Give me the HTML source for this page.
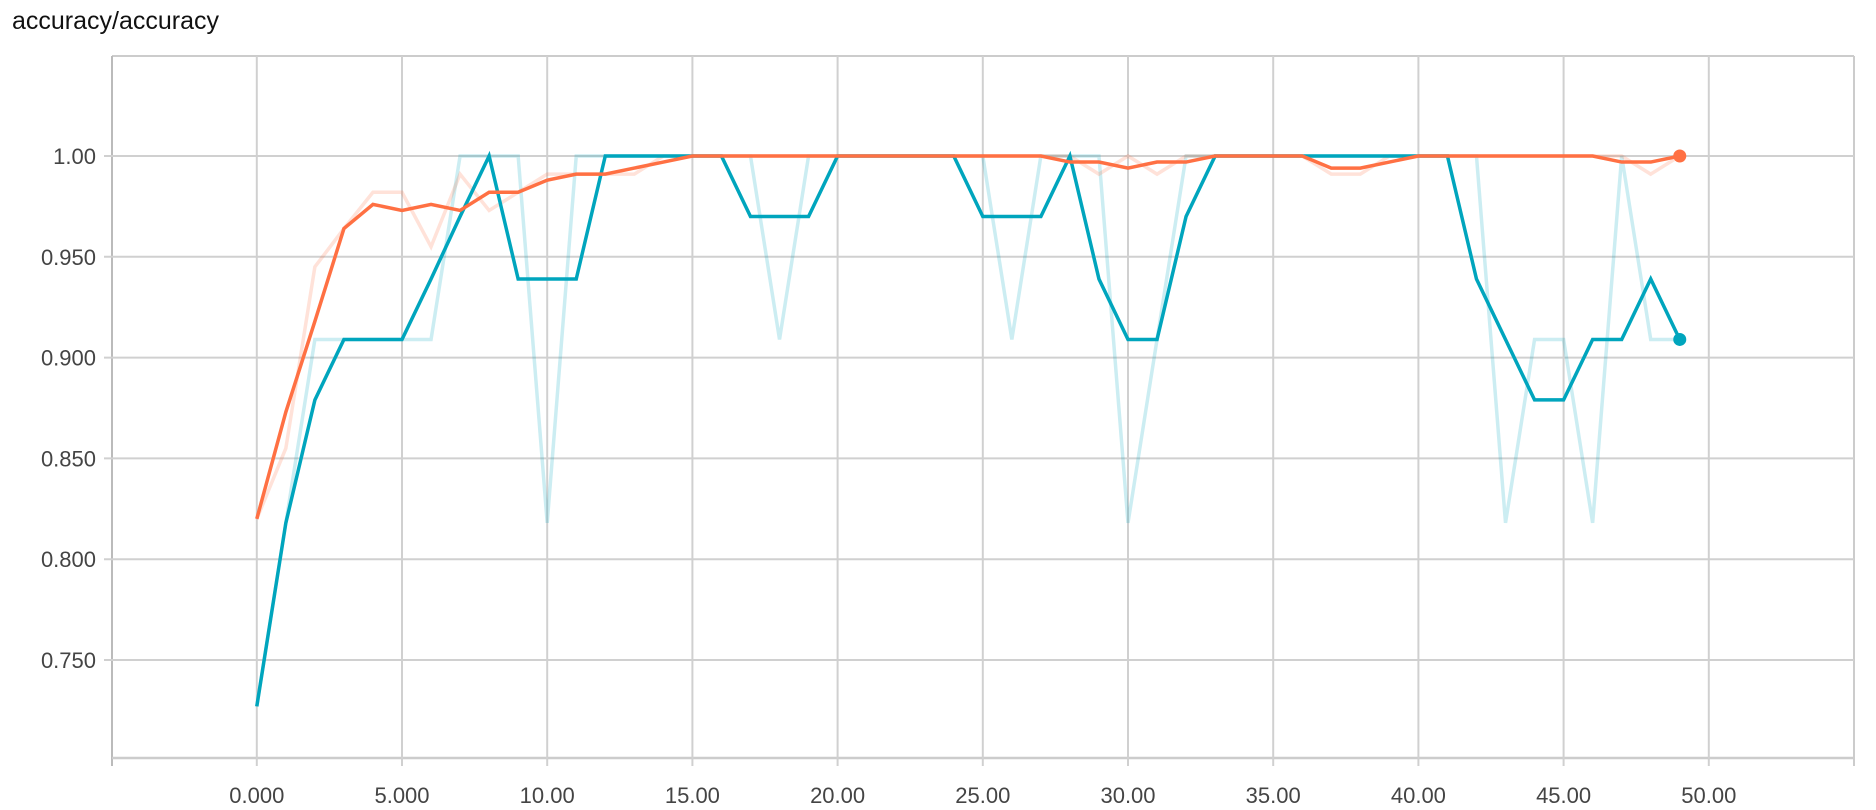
<!DOCTYPE html>
<html><head><meta charset="utf-8"><style>
html,body{margin:0;padding:0;background:#fff;width:1876px;height:810px;overflow:hidden}
svg{display:block}
text{font-family:"Liberation Sans",sans-serif}
</style></head><body>
<svg id="chart" width="1876" height="810" xmlns="http://www.w3.org/2000/svg">
<text x="12" y="29" font-size="25" fill="#111">accuracy/accuracy</text>
<g id="grid"></g><g id="series"></g><g id="labels"></g>
</svg>
<script>
const steps = Array.from({length:50},(_,i)=>i);
const tealRaw = [0.727,0.818,0.909,0.909,0.909,0.909,0.909,1,1,1,0.818,1,1,1,1,1,1,1,0.909,1,1,1,1,1,1,1,0.909,1,1,1,0.818,0.909,1,1,1,1,1,1,1,1,1,1,1,0.818,0.909,0.909,0.818,1,0.909,0.909];
const tealSmooth = [0.727,0.818,0.879,0.909,0.909,0.909,0.939,0.97,1,0.939,0.939,0.939,1,1,1,1,1,0.97,0.97,0.97,1,1,1,1,1,0.97,0.97,0.97,1,0.939,0.909,0.909,0.97,1,1,1,1,1,1,1,1,1,0.939,0.909,0.879,0.879,0.909,0.909,0.939,0.909];
const orangeRaw = [0.82,0.855,0.945,0.964,0.982,0.982,0.955,0.991,0.973,0.982,0.991,0.991,0.991,0.991,1,1,1,1,1,1,1,1,1,1,1,1,1,1,1,0.991,1,0.991,1,1,1,1,1,0.991,0.991,1,1,1,1,1,1,1,1,1,0.991,1];
const orangeSmooth = [0.82,0.873,0.918,0.964,0.976,0.973,0.976,0.973,0.982,0.982,0.988,0.991,0.991,0.994,0.997,1,1,1,1,1,1,1,1,1,1,1,1,1,0.997,0.997,0.994,0.997,0.997,1,1,1,1,0.994,0.994,0.997,1,1,1,1,1,1,1,0.997,0.997,1];
const xTicks = [0,5,10,15,20,25,30,35,40,45,50];
const xTickLabels = ["0.000","5.000","10.00","15.00","20.00","25.00","30.00","35.00","40.00","45.00","50.00"];
const yTicks = [1.0,0.95,0.9,0.85,0.8,0.75];
const yTickLabels = ["1.00","0.950","0.900","0.850","0.800","0.750"];

const L=112,R=1854,T=56,B=758;
const xs = s => 256.8 + s*29.04;
const ys = v => 156 + (1-v)*2016;
const NS="http://www.w3.org/2000/svg";
function mk(tag,attrs,parent){const e=document.createElementNS(NS,tag);for(const k in attrs)e.setAttribute(k,attrs[k]);parent.appendChild(e);return e;}
const grid=document.getElementById('grid'),ser=document.getElementById('series'),lab=document.getElementById('labels');
let e;
e=mk('line',{x1:L,y1:T,x2:R,y2:T,stroke:'#ccc','stroke-width':2},grid);


e=mk('line',{x1:R,y1:T,x2:R,y2:B+8,stroke:'#ccc','stroke-width':2},grid);


e=mk('line',{x1:L,y1:T,x2:L,y2:B+8,stroke:'#bbb','stroke-width':2},grid);


e=mk('line',{x1:L,y1:B,x2:R,y2:B,stroke:'#ccc','stroke-width':2.5},grid);


xTicks.forEach((t,i)=>{
  e=mk('line',{x1:xs(t),y1:T,x2:xs(t),y2:B+8,stroke:'#d0d0d0','stroke-width':2},grid);
  
  
  e=mk('text',{x:xs(t),y:803,'font-size':22,fill:'#444','text-anchor':'middle'},lab);
  e.textContent=xTickLabels[i];
  
  
});
yTicks.forEach((t,i)=>{
  e=mk('line',{x1:L-8,y1:ys(t),x2:R,y2:ys(t),stroke:'#d0d0d0','stroke-width':2},grid);
  
  
  e=mk('text',{x:96,y:ys(t)+8,'font-size':22,fill:'#444','text-anchor':'end'},lab);
  e.textContent=yTickLabels[i];
  
  
});
function line(vals,color,op,w){return mk('polyline',{points:vals.map((v,i)=>xs(steps[i])+','+ys(v)).join(' '),fill:'none',stroke:color,'stroke-opacity':op,'stroke-width':w,'stroke-linejoin':'miter'},ser);}
e=line(tealRaw,'#00a5bd',0.2,3.5);


e=line(orangeRaw,'#ff7043',0.2,3.5);


e=line(tealSmooth,'#00a5bd',1,3.5);


e=line(orangeSmooth,'#ff7043',1,3.5);


const n=steps.length-1;
e=mk('circle',{cx:xs(steps[n]),cy:ys(tealSmooth[n]),r:6.5,fill:'#00a5bd'},ser);


e=mk('circle',{cx:xs(steps[n]),cy:ys(orangeSmooth[n]),r:6.5,fill:'#ff7043'},ser);


</script>
</body></html>
